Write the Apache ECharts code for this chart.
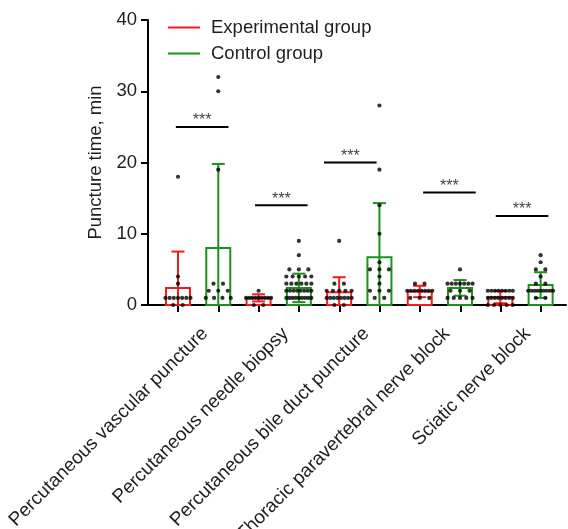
<!DOCTYPE html>
<html><head><meta charset="utf-8">
<script src="https://cdn.jsdelivr.net/npm/echarts@6/dist/echarts.min.js"></script>
<style>html,body{margin:0;padding:0;background:#fff}#c{width:568px;height:529px}</style>
</head><body><div id="c"></div>
<script>
// ---------- data ----------
const groups = ['Percutaneous vascular puncture', 'Percutaneous needle biopsy', 'Percutaneous bile duct puncture', 'Thoracic paravertebral nerve block', 'Sciatic nerve block'];
const seriesNames = ['Experimental group', 'Control group'];
const expMean = [2.4, 1.0, 1.8, 1.9, 1.1];
const expSD = [5.1, 0.5, 2.1, 0.8, 0.85];
const ctrlMean = [8.0, 2.4, 6.7, 2.4, 2.8];
const ctrlSD = [11.8, 2.0, 7.6, 1.1, 1.8];
const expDots1 = [18, 4, 3, 1, 1, 1, 1, 1, 1, 1, 0, 0];
const expDots2 = [2, 1, 1, 1, 1, 1, 1, 1, 1, 1, 0, 0];
const expDots3 = [9, 3, 3, 2, 2, 2, 2, 2, 1, 1, 1, 1, 1, 1, 1, 1, 0, 0];
const expDots4 = [3, 3, 2, 2, 2, 2, 2, 2, 2, 2, 1, 1, 1];
const expDots5 = [2, 2, 2, 2, 2, 2, 2, 2, 1, 1, 1, 1, 1, 1, 1, 1, 0, 0, 0, 0, 0];
const ctrlDots1 = [32, 30, 19, 3, 3, 2, 2, 2, 1, 1, 1, 1];
const ctrlDots2 = [9, 7, 5, 5, 5, 4, 4, 4, 4, 4, 3, 3, 3, 3, 3, 3, 2, 2, 2, 2, 2, 2, 2, 2, 1, 1, 1, 1, 1, 1, 1, 1, 1];
const ctrlDots3 = [28, 19, 14, 10, 6, 5, 5, 5, 4, 3, 2, 2, 2, 1, 1];
const ctrlDots4 = [5, 3, 3, 3, 3, 3, 3, 3, 2, 2, 2, 1, 1, 1, 1, 1];
const ctrlDots5 = [7, 6, 5, 5, 4, 3, 3, 2, 2, 2, 2, 2, 2, 2, 2, 2, 1, 1];
const sigLevel = [25, 14, 20, 15.8, 12.5];
const sigText = ['***', '***', '***', '***', '***'];
const yTicks = [0, 10, 20, 30, 40];

// ---------- layout / style ----------
const RED = '#f01b1b', GREEN = '#1a931a', INK = '#1e1e1e';
const sigCenter = [0.6, 0.565, 0.277, 0.737, 0.54]; // bracket centre, in bar slots from group's first bar
const expDots = [expDots1, expDots2, expDots3, expDots4, expDots5];
const ctrlDots = [ctrlDots1, ctrlDots2, ctrlDots3, ctrlDots4, ctrlDots5];

function barRender(color) {
  return function (params, api) {
    const x = api.value(0), m = api.value(1), sd = api.value(2);
    const c = api.coord([x, m]);
    const b = api.coord([x, 0]);
    const t = api.coord([x, m + sd]);
    const l = api.coord([x, Math.max(0, m - sd)]);
    const hw = 12, cap = 6.5;
    const st = { stroke: color, lineWidth: 2, fill: null };
    return { type: 'group', children: [
      { type: 'rect', shape: { x: c[0] - hw, y: c[1], width: 2 * hw, height: b[1] - c[1] }, style: { stroke: color, lineWidth: 2, fill: 'rgba(0,0,0,0)' } },
      { type: 'line', shape: { x1: c[0], y1: t[1], x2: c[0], y2: l[1] }, style: st },
      { type: 'line', shape: { x1: c[0] - cap, y1: t[1], x2: c[0] + cap, y2: t[1] }, style: st },
      { type: 'line', shape: { x1: c[0] - cap, y1: l[1], x2: c[0] + cap, y2: l[1] }, style: st }
    ]};
  };
}

function dotItems(vals, slot) {
  const counts = {}, seen = {};
  vals.forEach(v => counts[v] = (counts[v] || 0) + 1);
  return vals.map(v => {
    const n = counts[v];
    const k = seen[v] = (seen[v] === undefined ? 0 : seen[v] + 1);
    const sp = n > 1 ? Math.min(9.5, 25 / (n - 1)) : 0;
    return { value: [slot, v], symbolOffset: [(k - (n - 1) / 2) * sp, 0] };
  });
}
let dots = [];
groups.forEach((g, i) => {
  dots = dots.concat(dotItems(expDots[i], 2 * i), dotItems(ctrlDots[i], 2 * i + 1));
});

const barSlots = [];
groups.forEach((g, i) => { barSlots.push(g + ' E', g + ' C'); });

const chart = echarts.init(document.getElementById('c'), null, { renderer: 'canvas' });
chart.setOption({
  animation: false,
  backgroundColor: '#fff',
  textStyle: { fontFamily: 'Liberation Sans, Arial, sans-serif' },
  grid: [
    { left: 148, right: 2, top: 20, bottom: 224, containLabel: false, outerBoundsMode: 'none' },
    { left: 157.85, right: 6.85, top: 20, bottom: 224, containLabel: false, outerBoundsMode: 'none' }
  ],
  legend: {
    orient: 'vertical', left: 163, top: 13, itemGap: 7, padding: 5,
    icon: 'rect', itemWidth: 32, itemHeight: 2,
    textStyle: { fontSize: 18.5, color: INK, padding: [0, 0, 0, 6] },
    data: [
      { name: seriesNames[0], itemStyle: { color: RED } },
      { name: seriesNames[1], itemStyle: { color: GREEN } }
    ]
  },
  xAxis: [
    { type: 'value', gridIndex: 0, position: 'bottom', min: -0.744, max: 9.63,
      axisLine: { show: true, onZero: false, lineStyle: { color: '#000', width: 2 } },
      axisTick: { show: false }, axisLabel: { show: false }, splitLine: { show: false } },
    { type: 'category', gridIndex: 1, position: 'bottom', data: barSlots,
      axisLine: { show: false, onZero: false },
      axisTick: { show: true, alignWithLabel: true, interval: 0, length: 7, lineStyle: { color: '#000', width: 2 } },
      axisLabel: { show: false }, splitLine: { show: false } },
    { type: 'category', gridIndex: 1, position: 'bottom', data: groups,
      axisLine: { show: false, onZero: false }, axisTick: { show: false },
      axisLabel: { show: true, interval: 0, rotate: 45, fontSize: 19, color: INK, margin: 19, verticalAlign: 'top' } }
  ],
  yAxis: [
    { type: 'value', gridIndex: 0, position: 'left', min: yTicks[0], max: yTicks[yTicks.length - 1], interval: 10,
      name: 'Puncture time, min', nameLocation: 'middle', nameGap: 36,
      nameTextStyle: { fontSize: 18.5, color: INK },
      axisLine: { show: true, onZero: false, lineStyle: { color: '#000', width: 2 } },
      axisTick: { show: true, length: 7, lineStyle: { color: '#000', width: 2 } },
      axisLabel: { fontSize: 18.5, color: INK, margin: 11 },
      splitLine: { show: false } },
    { type: 'value', gridIndex: 1, min: 0, max: 40, show: false, splitLine: { show: false } }
  ],
  series: [
    { name: seriesNames[0], type: 'custom', xAxisIndex: 0, yAxisIndex: 0, z: 2,
      itemStyle: { color: RED },
      renderItem: barRender(RED), encode: { x: 0, y: 1 },
      data: expMean.map((m, i) => [2 * i, m, expSD[i]]) },
    { name: seriesNames[1], type: 'custom', xAxisIndex: 0, yAxisIndex: 0, z: 2,
      itemStyle: { color: GREEN },
      renderItem: barRender(GREEN), encode: { x: 0, y: 1 },
      data: ctrlMean.map((m, i) => [2 * i + 1, m, ctrlSD[i]]) },
    { name: 'dots', type: 'scatter', xAxisIndex: 0, yAxisIndex: 0, z: 4,
      symbol: 'circle', symbolSize: 4.2, itemStyle: { color: '#000' },
      data: dots },
    { name: 'sig', type: 'custom', xAxisIndex: 0, yAxisIndex: 0, z: 3,
      renderItem: function (params, api) {
        const p = api.coord([api.value(0), api.value(1)]);
        const hw = 26.3;
        return { type: 'group', children: [
          { type: 'line', shape: { x1: p[0] - hw, y1: p[1], x2: p[0] + hw, y2: p[1] }, style: { stroke: '#000', lineWidth: 2 } },
          { type: 'text', style: { text: sigText[params.dataIndex], x: p[0], y: p[1] - 6, textAlign: 'center', textVerticalAlign: 'middle', fontSize: 16, fill: '#444', fontFamily: 'Liberation Sans, Arial, sans-serif' } }
        ]};
      },
      data: sigLevel.map((y, i) => [2 * i + sigCenter[i], y]) }
  ]
});
</script>
</body></html>
